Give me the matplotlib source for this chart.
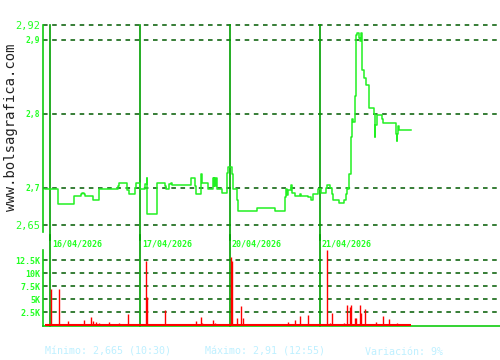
import numpy as np
import matplotlib
matplotlib.use('Agg')
import matplotlib.pyplot as plt
import matplotlib.transforms as mtransforms

# ============================================================
#  DATA
#  time axis: session index + fraction of the session
# ============================================================
day_starts = [0, 1, 2, 3]
day_labels = ['16/04/2026', '17/04/2026', '20/04/2026', '21/04/2026']

price_t = [-0.056, 0.086, 0.261, 0.341, 0.356, 0.378, 0.389, 0.481, 0.544, 0.759,
           0.770, 0.859, 0.881, 0.941, 0.952, 1.000, 1.056, 1.074, 1.081, 1.186,
           1.274, 1.286, 1.326, 1.341, 1.359, 1.563, 1.611, 1.622, 1.674, 1.686,
           1.759, 1.808, 1.817, 1.826, 1.837, 1.848, 1.856, 1.914, 1.963, 1.981,
           2.019, 2.030, 2.074, 2.086, 2.303, 2.500, 2.611, 2.622, 2.637, 2.648,
           2.674, 2.686, 2.722, 2.778, 2.789, 2.870, 2.900, 2.919, 2.981, 3.008,
           3.063, 3.074, 3.111, 3.130, 3.141, 3.214, 3.270, 3.286, 3.300, 3.314,
           3.326, 3.341, 3.352, 3.370, 3.386, 3.397, 3.403, 3.408, 3.433, 3.444,
           3.456, 3.463, 3.470, 3.492, 3.511, 3.544, 3.603, 3.608, 3.614, 3.630,
           3.692, 3.703, 3.841, 3.852, 3.859, 3.867, 3.878, 4.011]
price_v = [2.699, 2.678, 2.689, 2.691, 2.693, 2.691, 2.689, 2.683, 2.699, 2.703,
           2.707, 2.697, 2.692, 2.700, 2.707, 2.699, 2.705, 2.713, 2.664, 2.707,
           2.703, 2.698, 2.705, 2.707, 2.704, 2.713, 2.703, 2.692, 2.7185, 2.707,
           2.698, 2.713, 2.702, 2.713, 2.702, 2.713, 2.698, 2.693, 2.7205, 2.728,
           2.719, 2.698, 2.683, 2.668, 2.673, 2.668, 2.687, 2.698, 2.690, 2.697,
           2.704, 2.693, 2.689, 2.692, 2.689, 2.687, 2.683, 2.692, 2.698, 2.693,
           2.700, 2.704, 2.700, 2.692, 2.683, 2.679, 2.683, 2.692, 2.700, 2.698,
           2.7185, 2.768, 2.793, 2.789, 2.824, 2.881, 2.906, 2.909, 2.903, 2.899,
           2.909, 2.886, 2.859, 2.849, 2.839, 2.8085, 2.7995, 2.768, 2.785, 2.798,
           2.7936, 2.788, 2.7725, 2.7635, 2.7725, 2.784, 2.778, 2.778]

vol_t = [0.014, 0.097, 0.203, 0.270, 0.348, 0.381, 0.459, 0.481, 0.508, 0.548,
         0.659, 0.770, 0.870, 0.948, 1.067, 1.081, 1.281, 1.341, 1.626, 1.681,
         1.692, 1.814, 1.837, 1.852, 1.986, 2.011, 2.022, 2.081, 2.122, 2.148,
         2.259, 2.314, 2.381, 2.622, 2.648, 2.692, 2.726, 2.781, 2.803, 2.870,
         2.948, 3.074, 3.114, 3.137, 3.270, 3.303, 3.337, 3.348, 3.392, 3.403,
         3.448, 3.459, 3.470, 3.503, 3.626, 3.703, 3.759, 3.770, 3.852, 3.992]
vol_v = [7000, 7000, 830, 250, 300, 960, 1600, 770, 580, 440,
         580, 400, 2170, 190, 12360, 5440, 2940, 200, 830, 1600,
         440, 1020, 400, 200, 200, 13130, 12360, 1400, 3710, 1350,
         200, 150, 200, 200, 580, 200, 960, 1790, 200, 1980,
         150, 14500, 440, 2430, 440, 3970, 3590, 3910, 1350, 1350,
         3910, 2300, 200, 3140, 640, 1790, 200, 1210, 500, 200]

price_ticks = [2.65, 2.7, 2.8, 2.9, 2.92]
price_tick_labels = ['2,65', '2,7', '2,8', '2,9', '2,92']
vol_ticks = [2500, 5000, 7500, 10000, 12500]
vol_tick_labels = ['2.5K', '5K', '7.5K', '10K', '12.5K']

stats_text = ['Mínimo: 2,665 (10:30)', 'Máximo: 2,91 (12:55)', 'Variación: 9%']

# ============================================================
#  STYLE
# ============================================================
MONO = 'DejaVu Sans Mono'
C_LINE = '#22f022'
C_TEXT = '#22ff22'
C_GRID = '#005a00'
C_DAY = '#00a000'
C_AXIS = '#11cc11'
C_VOL = '#ff0000'
C_STATS = '#bff0ff'

XLIM = (-0.078, 5.0)

fig = plt.figure(figsize=(5.0, 3.6), dpi=100)
fig.patch.set_facecolor('white')

ax_p = fig.add_axes([0.086, 0.3556, 0.914, 0.575])
ax_v = fig.add_axes([0.086, 0.0944, 0.914, 0.2111])

for ax in (ax_p, ax_v):
    ax.set_xlim(*XLIM)
    ax.set_facecolor('none')
    ax.set_xticks([])
    for s in ('top', 'right', 'bottom'):
        ax.spines[s].set_visible(False)
    ax.spines['left'].set_color(C_AXIS)
    ax.spines['left'].set_linewidth(1.2)
    ax.tick_params(axis='y', length=0, pad=2)

# ---------------- price panel ----------------
ax_p.set_ylim(2.6403, 2.92)
for yv in price_ticks:
    ax_p.axhline(yv, color=C_GRID, lw=1.1, ls=(0, (3, 3)), zorder=1, clip_on=False)
ax_p.set_yticks(price_ticks)
ax_p.set_yticklabels(price_tick_labels)
for lbl, val in zip(ax_p.get_yticklabels(), price_ticks):
    lbl.set_family(MONO)
    lbl.set_color(C_TEXT)
    if val in (2.65, 2.92):
        lbl.set_fontsize(7.5)
    else:
        lbl.set_fontsize(5.8)
        lbl.set_fontweight('bold')

for d in day_starts:
    ax_p.axvline(d, ymin=-0.04, ymax=1.0, color=C_DAY, lw=1.2, clip_on=False, zorder=2)

ax_p.step(price_t, price_v, where='post', color=C_LINE, lw=1.1, zorder=3)

# ---------------- volume panel ----------------
ax_v.set_ylim(-135, 14480)
ax_v.spines['bottom'].set_visible(True)
ax_v.spines['bottom'].set_color(C_AXIS)
ax_v.spines['bottom'].set_linewidth(1.2)
for yv in vol_ticks:
    ax_v.axhline(yv, color=C_GRID, lw=1.1, ls=(0, (3, 3)), zorder=1)
ax_v.set_yticks(vol_ticks)
ax_v.set_yticklabels(vol_tick_labels)
for lbl in ax_v.get_yticklabels():
    lbl.set_family(MONO)
    lbl.set_color(C_TEXT)
    lbl.set_fontsize(6)
    lbl.set_fontweight('bold')

for d in day_starts:
    ax_v.axvline(d, ymin=0, ymax=1.2, color=C_DAY, lw=1.2, clip_on=False, zorder=2)

trans = mtransforms.blended_transform_factory(ax_v.transData, ax_v.transAxes)
for d, txt in zip(day_starts, day_labels):
    ax_v.text(d + 0.02, 1.08, txt, transform=trans, family=MONO, fontsize=6,
              fontweight='bold', color=C_TEXT, ha='left', va='center')

ax_v.hlines(100, price_t[0], price_t[-1], color=C_VOL, lw=1.5, zorder=3)
ax_v.vlines(vol_t, 0, vol_v, color=C_VOL, lw=1.0, zorder=3)

# ---------------- texts ----------------
fig.text(0.022, 1 - 127 / 360, 'www.bolsagrafica.com', rotation=90, family=MONO,
         fontsize=10, color='#222222', ha='center', va='center')

for xs, txt in zip([45, 205, 365], stats_text):
    fig.text(xs / 500, 1 - 352 / 360, txt, family=MONO, fontsize=7.2,
             color=C_STATS, ha='left', va='center')

fig.savefig('out.png', dpi=100, facecolor='white')
